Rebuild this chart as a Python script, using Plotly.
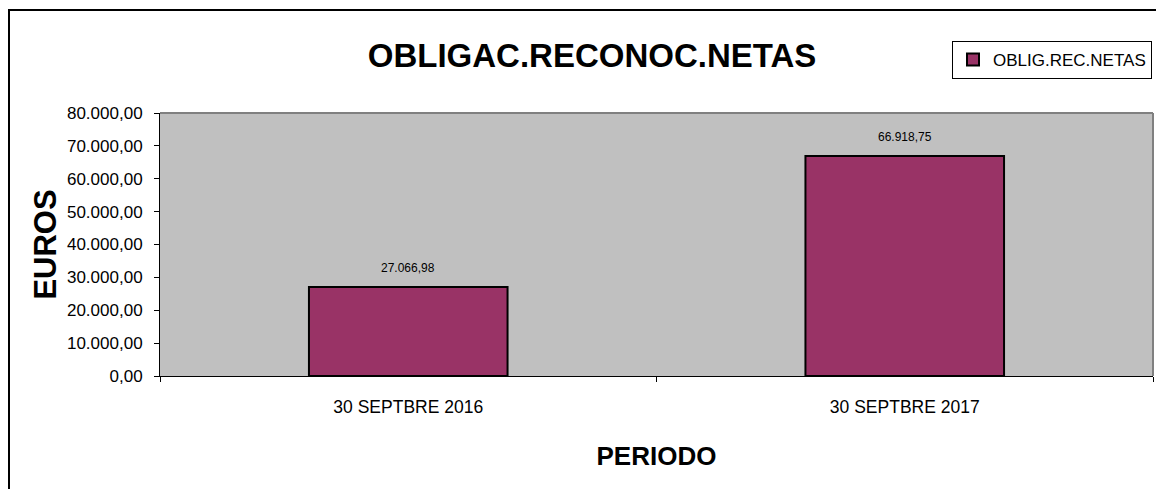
import plotly.graph_objects as go

categories = ["30 SEPTBRE 2016", "30 SEPTBRE 2017"]
values = [27066.98, 66918.75]
series_name = "OBLIG.REC.NETAS"
y_ticks = [0, 10000, 20000, 30000, 40000, 50000, 60000, 70000, 80000]

REG = "Liberation Sans, Arial, sans-serif"

# page body has an 8px default margin; figure coords = screenshot - 8
OFF = 8
W, H = 1164 - OFF, 489 - OFF
L, R, T, B = 160 - OFF, 11, 113 - OFF, 113
pw, ph = W - L - R, H - T - B

def px_x(p):
    return (p - OFF - L) / pw

def px_y(p):
    return (H - B - (p - OFF)) / ph

def fmt(v):
    return f"{v:,.2f}".replace(",", "X").replace(".", ",").replace("X", ".")

fig = go.Figure()
fig.add_trace(go.Bar(
    x=categories, y=values, name=series_name,
    marker=dict(color="#993366", line=dict(color="#000000", width=2)),
    width=0.4,
    showlegend=True,
))

# value labels above bars
for c, v in zip(categories, values):
    fig.add_annotation(x=c, y=v, xref="x", yref="y", text=fmt(v), showarrow=False,
                       yanchor="middle", yshift=19,
                       font=dict(family=REG, size=12, color="#000000"))

fig.update_layout(
    width=W, height=H,
    margin=dict(l=L, r=R, t=T, b=B),
    paper_bgcolor="#ffffff", plot_bgcolor="#c0c0c0",
    separators=",.",
    title=dict(text="<b>OBLIGAC.RECONOC.NETAS</b>", x=px_x(592), xref="paper", xanchor="center",
               y=1 - (55 - OFF) / H, yanchor="middle", yref="container",
               font=dict(family=REG, size=33, color="#000000")),
    showlegend=True,
    legend=dict(x=px_x(952), y=px_y(41), xanchor="left", yanchor="top",
                bgcolor="#ffffff", bordercolor="#000000", borderwidth=1,
                font=dict(family=REG, size=17, color="#000000"),
                itemwidth=30),
    xaxis=dict(showgrid=False, showline=True, linecolor="#000000", linewidth=1,
               ticks="outside", ticklen=5, tickcolor="#000000", tickson="boundaries",
               ticklabelstandoff=15,
               tickfont=dict(family=REG, size=17.5, color="#000000"),
               title=dict(text="<b>PERIODO</b>", font=dict(family=REG, size=26, color="#000000"), standoff=30)),
    yaxis=dict(range=[0, 80000], tickvals=y_ticks, tickformat=",.2f",
               showgrid=False, showline=True, linecolor="#000000", linewidth=1,
               ticks="outside", ticklen=5, tickcolor="#000000",
               ticklabelstandoff=8,
               tickfont=dict(family=REG, size=17, color="#000000"),
               title=dict(text="<b>EUROS</b>", font=dict(family=REG, size=31, color="#000000"), standoff=1),
               zeroline=False),
)

# plot area top/right border (gray)
fig.add_shape(type="line", xref="paper", yref="paper", x0=0, x1=1, y0=1, y1=1,
              line=dict(color="#808080", width=2))
fig.add_shape(type="line", xref="paper", yref="paper", x0=1, x1=1, y0=0, y1=1,
              line=dict(color="#808080", width=2))
# chart outer border (left & top)
fig.add_shape(type="line", xref="paper", yref="paper", x0=px_x(9), x1=px_x(9), y0=px_y(10), y1=px_y(495),
              line=dict(color="#000000", width=2))
fig.add_shape(type="line", xref="paper", yref="paper", x0=px_x(8), x1=px_x(1170), y0=px_y(10), y1=px_y(10),
              line=dict(color="#000000", width=2))

fig.write_html("out.html")
